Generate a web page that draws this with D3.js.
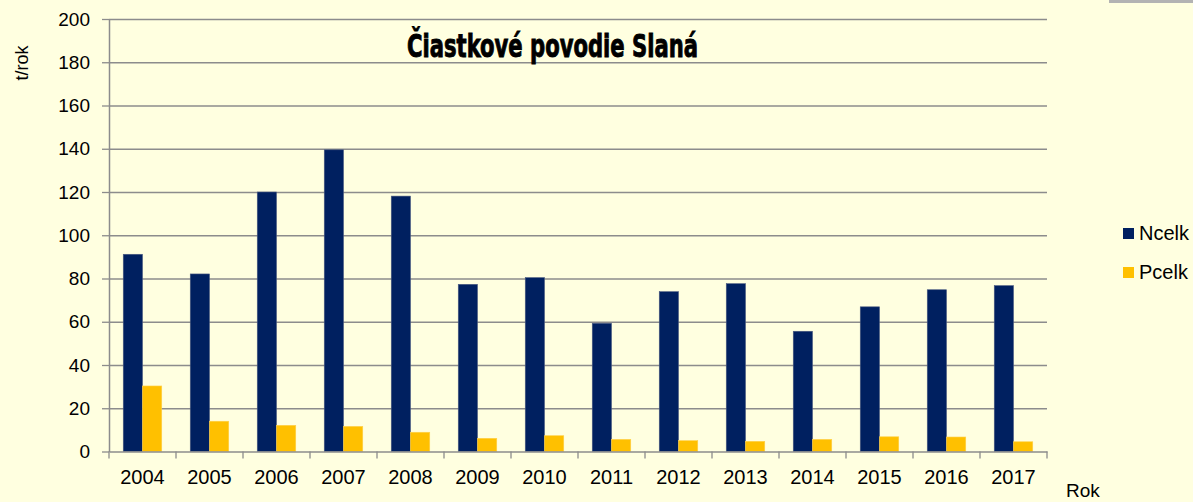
<!DOCTYPE html>
<html>
<head>
<meta charset="utf-8">
<script src="https://cdn.jsdelivr.net/npm/d3@7/dist/d3.min.js"></script>
<style>
    html, body { margin: 0; padding: 0; background: #ffffe0; }
    svg { display: block; font-family: "Liberation Sans", Arial, sans-serif; }
</style>
</head>
<body>
<svg id="chart" width="1193" height="502"></svg>
<script>
// data
const years = ['2004', '2005', '2006', '2007', '2008', '2009', '2010',
               '2011', '2012', '2013', '2014', '2015', '2016', '2017'];
const ncelk = [91.2, 82.1, 120.0, 139.5, 118.1, 77.3, 80.4, 59.3, 73.9, 77.6, 55.6, 66.9, 74.8, 76.7];
const pcelk = [30.3, 14.0, 12.1, 11.6, 8.9, 6.1, 7.3, 5.6, 5.0, 4.7, 5.6, 6.8, 6.7, 4.5];
const seriesNames = ['Ncelk', 'Pcelk'];
const seriesColors = ['#002060', '#ffc000'];
const yTicks = [0, 20, 40, 60, 80, 100, 120, 140, 160, 180, 200];

const title = 'Čiastkové povodie Slaná';

// layout
const plot = {left: 109, right: 1047, top: 19, bottom: 451.5};
const gridColor = '#8c8c8c';

let svg = d3.select('#chart');

svg.append('rect')
    .attr('width', 1193).attr('height', 502)
    .attr('fill', '#ffffe0');

// little grey strip in the top right corner
svg.append('rect')
    .attr('x', 1109).attr('y', 0)
    .attr('width', 84).attr('height', 3)
    .attr('fill', '#b3b3b3');

let x = d3.scaleBand()
    .domain(years)
    .range([plot.left, plot.right]);

let xInner = d3.scaleBand()
    .domain(seriesNames)
    .range([0, x.bandwidth()])
    .paddingOuter(0.74);

let y = d3.scaleLinear()
    .domain([0, 200])
    .range([plot.bottom, plot.top]);

// gridlines
svg.append('g')
    .attr('class', 'grid')
    .attr('transform', `translate(${plot.left},0)`)
    .call(d3.axisLeft(y).tickValues(yTicks.slice(1)).tickSize(-(plot.right - plot.left)).tickFormat(''))
    .call(g => g.select('.domain').remove())
    .call(g => g.selectAll('line').attr('stroke', gridColor).attr('stroke-width', 1.3));

// bars
let rows = years.map((yr, i) => ({year: yr, values: [ncelk[i], pcelk[i]]}));

let groups = svg.append('g')
    .attr('class', 'bars')
    .selectAll('g')
    .data(rows)
    .join('g')
    .attr('transform', d => `translate(${x(d.year)},0)`);

groups.selectAll('rect')
    .data(d => d.values.map((v, k) => ({name: seriesNames[k], value: v, k: k})))
    .join('rect')
    .attr('x', d => xInner(d.name))
    .attr('y', d => y(d.value))
    .attr('width', xInner.bandwidth())
    .attr('height', d => y(0) - y(d.value))
    .attr('fill', d => seriesColors[d.k])
    .attr('stroke', d => d.k === 0 ? '#4a5a80' : '#ffd04a')
    .attr('stroke-width', 0.6);

// y axis
svg.append('g')
    .attr('class', 'y-axis')
    .attr('transform', `translate(${plot.left},0)`)
    .call(d3.axisLeft(y).tickValues(yTicks).tickSize(7).tickPadding(12).tickSizeOuter(0))
    .call(g => g.select('.domain').attr('stroke', gridColor).attr('stroke-width', 1.5))
    .call(g => g.selectAll('line').attr('stroke', gridColor).attr('stroke-width', 1.3))
    .call(g => g.selectAll('text')
        .attr('font-size', '19px')
        .attr('fill', '#000')
        .attr('font-family', '"Liberation Sans", Arial, sans-serif'));

// x axis: labels centred, ticks on category boundaries
svg.append('g')
    .attr('class', 'x-axis')
    .attr('transform', `translate(0,${plot.bottom})`)
    .call(d3.axisBottom(x).tickSize(0).tickSizeOuter(0))
    .call(g => g.select('.domain').attr('stroke', gridColor).attr('stroke-width', 1.5))
    .call(g => g.selectAll('text')
        .attr('y', 32.5)
        .attr('dy', 0)
        .attr('font-size', '20px')
        .attr('fill', '#000')
        .attr('font-family', '"Liberation Sans", Arial, sans-serif'));

let bounds = years.map(yr => x(yr)).concat([plot.right]);
svg.append('g')
    .attr('class', 'x-ticks')
    .selectAll('line')
    .data(bounds)
    .join('line')
    .attr('x1', d => d).attr('x2', d => d)
    .attr('y1', plot.bottom).attr('y2', plot.bottom + 7)
    .attr('stroke', gridColor)
    .attr('stroke-width', 1.3);

// axis titles
svg.append('text')
    .attr('transform', 'translate(28,63) rotate(-90)')
    .attr('text-anchor', 'middle')
    .attr('font-size', '18px')
    .text('t/rok');

svg.append('text')
    .attr('x', 1066).attr('y', 497)
    .attr('font-size', '19px')
    .text('Rok');

// chart title
svg.append('text')
    .attr('x', 407).attr('y', 57)
    .attr('font-family', '"Liberation Sans Narrow", "DejaVu Sans Condensed", sans-serif')
    .attr('font-weight', 'bold')
    .attr('font-size', '32px')
    .attr('textLength', 291)
    .attr('lengthAdjust', 'spacingAndGlyphs')
    .attr('stroke', '#000')
    .attr('stroke-width', 0.9)
    .text(title);

// legend
let legend = svg.append('g')
    .attr('class', 'legend')
    .selectAll('g')
    .data(seriesNames)
    .join('g')
    .attr('transform', (d, i) => `translate(1123,${228 + i * 39})`);

legend.append('rect')
    .attr('width', 11).attr('height', 11)
    .attr('fill', (d, i) => seriesColors[i]);

legend.append('text')
    .attr('x', 16).attr('y', 11.5)
    .attr('font-size', '20px')
    .text(d => d);
</script>
</body>
</html>
